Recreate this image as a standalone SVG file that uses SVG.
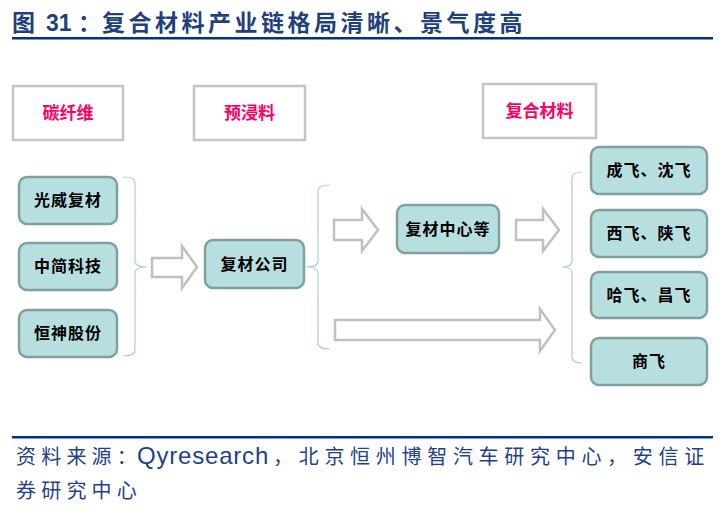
<svg xmlns="http://www.w3.org/2000/svg" width="725" height="516" viewBox="0 0 725 516">
<style>
.title{font-family:"Liberation Sans","Noto Sans CJK SC",sans-serif;font-weight:bold;font-size:23px;fill:#1f3f7f}
.src{font-family:"Noto Sans CJK SC",sans-serif;font-size:20px;fill:#1f3f8f}
.hdr{fill:#fff;stroke:#c4c4c4;stroke-width:2.5}
.hl{font-family:"Noto Sans CJK SC",sans-serif;font-weight:bold;font-size:17px;fill:#ff0066;text-anchor:middle}
.box{fill:#b8dfe0;stroke:#80a0a0;stroke-width:2.5}
.bl{font-family:"Noto Sans CJK SC",sans-serif;font-weight:bold;font-size:16px;fill:#000;text-anchor:middle;letter-spacing:1px}
.br{fill:none;stroke:#a8d2d2;stroke-width:1.2}
.ar{fill:#fff;stroke:#c0c0c0;stroke-width:2.5;stroke-linejoin:miter}
</style>
<rect width="725" height="516" fill="#fff"/>
<g id="title">
<text class="title" x="12" y="31">图 <tspan x="46">31</tspan><tspan x="78">：</tspan><tspan x="102" letter-spacing="3.5">复合材料产业链格局清晰、景气度高</tspan></text>
<rect x="12" y="37" width="701" height="2.5" fill="#00308a"/>
</g>
<g id="header-carbon"><rect class="hdr" x="13" y="86" width="110" height="54"/><text class="hl" x="68" y="119">碳纤维</text></g>
<g id="header-prepreg"><rect class="hdr" x="194" y="86" width="111" height="54"/><text class="hl" x="249.5" y="119">预浸料</text></g>
<g id="header-composite"><rect class="hdr" x="483" y="84" width="113" height="54"/><text class="hl" x="539.5" y="117">复合材料</text></g>
<g id="connectors">
<path class="br" d="M123,177 Q135,177 135,183 L135,261 Q135,267 147,267 Q135,267 135,273 L135,350 Q135,356 123,356"/>
<path class="br" d="M330,185 Q318,185 318,191 L318,261 Q318,267 306,267 Q318,267 318,273 L318,343 Q318,349 330,349"/>
<path class="br" d="M582,172 Q572,172 572,178 L572,261 Q572,267 562,267 Q572,267 572,273 L572,357 Q572,363 582,363"/>
<path class="ar" d="M152,258 L182,258 L182,246 L197,267 L182,288 L182,277 L152,277 Z"/>
<path class="ar" d="M334,220 L362,220 L362,209 L378,230 L362,251 L362,240 L334,240 Z"/>
<path class="ar" d="M516,220 L543,220 L543,209 L559,230 L543,251 L543,240 L516,240 Z"/>
<path class="ar" d="M335,320 L540,320 L540,309 L555,330 L540,351 L540,340 L335,340 Z"/>
</g>
<g id="n-guangwei"><rect class="box" x="19" y="177" width="98" height="47" rx="8"/><text class="bl" x="68" y="206">光威复材</text></g>
<g id="n-zhongjian"><rect class="box" x="19" y="243" width="98" height="47" rx="8"/><text class="bl" x="68" y="272">中简科技</text></g>
<g id="n-hengshen"><rect class="box" x="19" y="310" width="98" height="47" rx="8"/><text class="bl" x="68" y="339">恒神股份</text></g>
<g id="n-fucai"><rect class="box" x="205" y="240" width="99" height="48" rx="8"/><text class="bl" x="254.5" y="270">复材公司</text></g>
<g id="n-center"><rect class="box" x="397" y="205" width="102" height="48" rx="8"/><text class="bl" x="448" y="235">复材中心等</text></g>
<g id="n-cheng"><rect class="box" x="591" y="147" width="116" height="47" rx="8"/><text class="bl" x="649" y="176">成飞、沈飞</text></g>
<g id="n-xi"><rect class="box" x="591" y="210" width="116" height="47" rx="8"/><text class="bl" x="649" y="239">西飞、陕飞</text></g>
<g id="n-ha"><rect class="box" x="591" y="272" width="116" height="46" rx="8"/><text class="bl" x="649" y="301">哈飞、昌飞</text></g>
<g id="n-shang"><rect class="box" x="591" y="338" width="116" height="47" rx="8"/><text class="bl" x="649" y="367">商飞</text></g>
<g id="source">
<rect x="12" y="436" width="701" height="2.5" fill="#00308a"/>
<text class="src" x="16" y="464"><tspan letter-spacing="5.2">资料来源：</tspan><tspan x="137" font-family="Liberation Sans,sans-serif" font-size="24" letter-spacing="0.8">Qyresearch</tspan><tspan x="273" letter-spacing="5.7">，北京恒州博智汽车研究中心，安信证</tspan></text>
<text class="src" x="16" y="498" letter-spacing="5.2">券研究中心</text>
</g>
</svg>
